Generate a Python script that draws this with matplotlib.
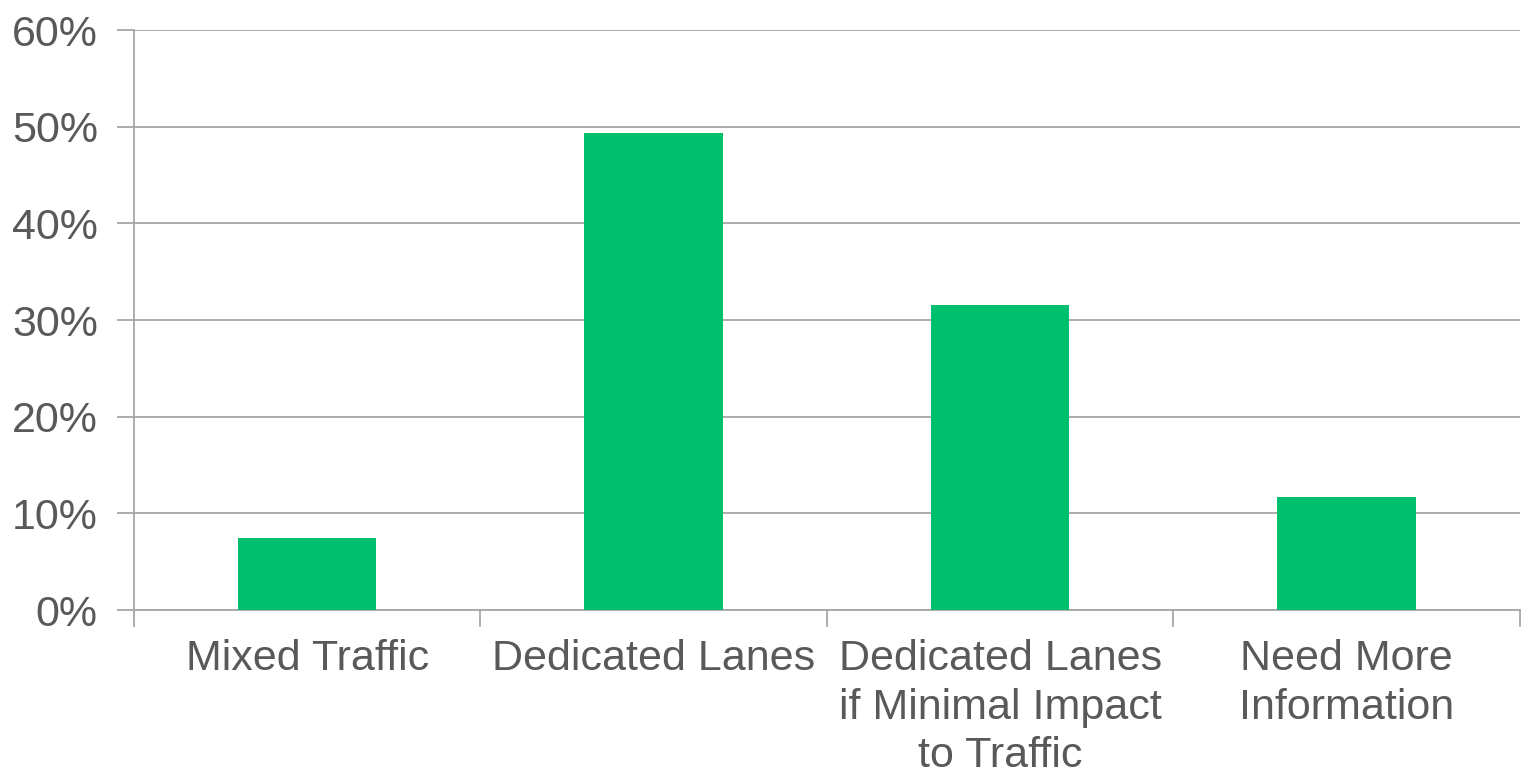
import matplotlib.pyplot as plt
import numpy as np
from matplotlib.ticker import FixedLocator, PercentFormatter

categories = ['Mixed Traffic', 'Dedicated Lanes',
              'Dedicated Lanes\nif Minimal Impact\nto Traffic',
              'Need More\nInformation']
shares = [7.5, 49.3, 31.6, 11.7]

plt.rcParams['font.family'] = ['Liberation Sans', 'DejaVu Sans']
text_gray = '#595959'
line_gray = '#A6A6A6'

fig = plt.figure(figsize=(15.24, 7.79), dpi=100)
ax = fig.add_axes([0.0879, 0.2169, 0.9094, 0.7445])

x = np.arange(len(categories))
ax.bar(x, shares, width=0.4, color='#00BF6F', zorder=3)

ax.set_xlim(-0.5, len(categories) - 0.5)
ax.set_ylim(0, 60)
ax.set_yticks(np.arange(0, 61, 10))
ax.yaxis.set_major_formatter(PercentFormatter(decimals=0))
ax.grid(axis='y', color=line_gray, linewidth=1.3, zorder=0)

# category labels at bar centres, tick marks between categories
ax.set_xticks(x)
ax.set_xticklabels(categories, linespacing=1.27)
ax.xaxis.set_minor_locator(FixedLocator(np.arange(-0.5, len(categories), 1)))
ax.tick_params(axis='x', which='major', length=0, pad=21,
               labelsize=31, labelcolor=text_gray)
ax.tick_params(axis='x', which='minor', length=12, width=1.3,
               color=line_gray, direction='out')
ax.tick_params(axis='y', length=12, width=1.3, color=line_gray,
               labelsize=31, labelcolor=text_gray, pad=14)

for side in ['top', 'right']:
    ax.spines[side].set_visible(False)
for side in ['left', 'bottom']:
    ax.spines[side].set_color(line_gray)
    ax.spines[side].set_linewidth(1.3)

fig.savefig('out.png', dpi=100)
